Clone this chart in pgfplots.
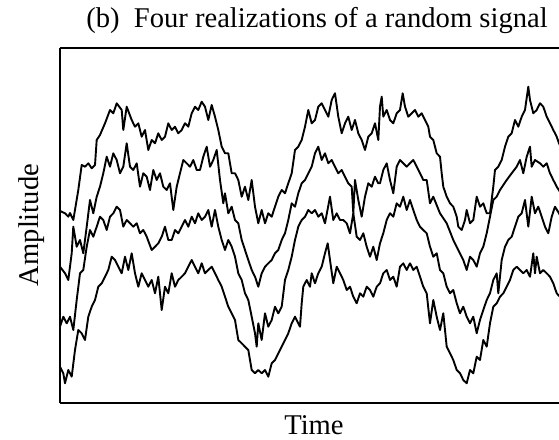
\documentclass[border=0pt]{standalone}
\usepackage{pgfplots}
\pgfplotsset{compat=1.18}
\usepackage{fontspec}
\setmainfont{Liberation Serif}

% data are in pixel units of the original figure (y measured downwards)
\begin{document}
\begin{tikzpicture}
\begin{axis}[
    scale only axis,
    width=255pt, height=177.5pt,
    xmin=60, xmax=570, ymin=48, ymax=403,
    y dir=reverse,
    axis x line=box, axis y line=left,
    axis line style={-, line width=1.1pt},
    ticks=none,
    sig/.style={black, mark=none, line width=0.95pt, line join=round},
]
\coordinate (pa) at (axis cs:0,0);
\coordinate (pb) at (axis cs:559,440);
\coordinate (tt) at (axis cs:317,28);
\coordinate (xl) at (axis cs:314,435);
\coordinate (yl) at (axis cs:39,225);

% realization 1 (top)
\addplot[sig] coordinates {
(60,211) (61.7,211.7) (65,213.3) (68.3,216.7) (70,213) (73.3,220) (78.3,190) (81.7,165)
(85,166.7) (88.3,163.3) (91.7,168.3) (95,165) (96.7,140) (100,135) (105,123.3)
(110,110) (113.3,113.3) (116.7,103.3) (121.7,110) (123.3,130) (126.7,106.7)
(131.7,120) (135,126.7) (138.3,123.3) (141.7,136.7) (145,130) (148.3,150)
(151.7,140) (155,143.3) (158.3,133.3) (161.7,140) (165,136.7) (168.3,123.3)
(171.7,130) (175,126.7) (178.3,133.3) (181.7,130) (185,123.3) (188.3,126.7)
(191.7,113.3) (195,106.7) (198.3,110) (201.7,101.7) (205,106.7) (208.3,120)
(211.7,105) (215,116.7) (218.3,130) (221.7,146.7) (225,153.3) (228.3,153.3)
(231.7,173.3) (235,173.3) (238.3,180) (241.7,196.7) (245,186.7) (248.3,200)
(251.7,180) (255,206.7) (258.3,223.3) (261.7,210) (265,223.3) (268.3,213.3)
(271.7,216.7) (275,206.7) (278.3,196.7) (281.7,190) (285,193.3) (288.3,183.3)
(291.7,173.3) (295,150) (298.3,146.7) (301.7,140) (305,126.7) (308.3,110)
(311.7,123.3) (315,120) (318.3,106.7) (321.7,103.3) (325,110) (328.3,116.7)
(331.7,100) (335,93.3) (338.3,116.7) (341.7,133.3) (345,123.3) (348.3,116.7)
(351.7,130) (355,120) (358.3,133.3) (361.7,140) (365,150) (368.3,136.7)
(371.7,133.3) (375,123.3) (378.3,140) (380,106.7) (381.7,96.7) (383.3,116.7)
(386.7,110) (390,120) (393.3,123.3) (396.7,113.3) (400,110) (402.7,93.3)
(405,106.7) (408.3,116.7) (411.7,113.3) (415,110) (418.3,116.7) (421.7,113.3)
(425,120) (428.3,126.7) (430,136.7) (433.3,140) (436.7,153.3) (440,156.7)
(441.7,173.3) (443.3,186.7) (446.7,196.7) (450,203.3) (453.3,206.7) (456.7,216.7)
(458.3,226.7) (461.7,230) (465,220) (466.7,210) (470,223.3) (473.3,220)
(476.7,196.7) (480,206.7) (483.3,203.3) (486.7,213.3) (490,213.3) (493.3,186.7)
(495,170) (498.3,166.7) (501.7,160) (505,146.7) (508.3,136.7) (511.7,133.3)
(515,120) (518.3,126.7) (521.7,116.7) (525,110) (528.3,86.7) (530,100)
(533.3,113.3) (536.7,110) (540,103.3) (543.3,106.7) (546.7,116.7) (550,123.3)
(553.3,130) (556.7,136.7) (559,143.3) (565,155) (570,165)
};

% realization 2
\addplot[sig] coordinates {
(60,266.7) (65,273.3) (68.3,280) (71.7,253.3) (73.3,226.7) (76.7,246.7) (80,240)
(83.3,253.3) (86.7,226.7) (90,200) (93.3,213.3) (96.7,196.7) (100,186.7)
(103.3,173.3) (106.7,156.7) (110,166.7) (113.3,153.3) (116.7,160) (120,173.3)
(123.3,166.7) (126.7,143.3) (130,166.7) (133.3,170) (136.7,163.3) (140,186.7)
(143.3,173.3) (146.7,176.7) (150,190) (153.3,170) (156.7,180) (160,173.3)
(163.3,186.7) (166.7,190) (170,183.3) (173.3,210) (176.7,186.7) (180,173.3)
(183.3,160) (186.7,163.3) (190,166.7) (193.3,160) (196.7,170) (200,170)
(203.3,156.7) (206.7,146.7) (210,166.7) (213.3,160) (216.7,150) (220,180)
(223.3,203.3) (225,193.3) (228.3,213.3) (231.7,206.7) (235,220) (238.3,223.3)
(241.7,240) (245,250) (248.3,260) (251.7,270) (255,276.7) (258.3,286.7)
(261.7,273.3) (265,266.7) (268.3,263.3) (271.7,260) (275,253.3) (278.3,250)
(281.7,240) (285,233.3) (288.3,220) (291.7,203.3) (295,206.7) (298.3,193.3)
(301.7,183.3) (305,180) (308.3,173.3) (311.7,166.7) (315,153.3) (318.3,146.7)
(321.7,160) (325,153.3) (328.3,163.3) (331.7,160) (335,166.7) (338.3,173.3)
(341.7,170) (345,176.7) (348.3,183.3) (351.7,186.7) (353.3,213.3) (355,180)
(358.3,200) (361.7,216.7) (365,196.7) (368.3,183.3) (371.7,186.7) (375,176.7)
(378.3,183.3) (380,183.3) (383.3,170) (386.7,163.3) (390,180) (393.3,193.3)
(396.7,166.7) (400,160) (403.3,163.3) (406.7,166.7) (410,163.3) (413.3,160)
(416.7,166.7) (420,173.3) (423.3,180) (426.7,180) (430,203.3) (433.3,196.7)
(440,213.3) (446.7,223.3) (453.3,240) (458.3,250) (463.3,260) (466.7,270)
(470,256.7) (473.3,260) (476.7,266.7) (480,253.3) (483.3,246.7) (486.7,233.3)
(490,216.7) (493.3,200) (496.7,196.7) (500,190) (506.7,180) (511.7,173.3)
(516.7,166.7) (520,160) (523.3,173.3) (526.7,156.7) (530,146.7) (531.7,166.7)
(535,160) (540,163.3) (543.3,166.7) (546.7,163.3) (550,173.3) (553.3,180)
(556.7,186.7) (562,195) (570,200)
};

% realization 3
\addplot[sig] coordinates {
(60,326.7) (63.3,316.7) (66.7,323.3) (70,316.7) (73.3,330) (76.7,300) (80,273.3)
(83.3,270) (86.7,246.7) (90,230) (93.3,236.7) (96.7,226.7) (100,216.7)
(103.3,220) (106.7,230) (110,216.7) (113.3,213.3) (116.7,206.7) (120,210)
(123.3,226.7) (126.7,220) (130,223.3) (133.3,226.7) (136.7,223.3) (140,233.3)
(143.3,230) (146.7,236.7) (151.7,250) (155,246.7) (158.3,243.3) (161.7,236.7)
(165,226.7) (168.3,240) (171.7,240) (175,230) (178.3,233.3) (181.7,226.7)
(185,220) (188.3,226.7) (191.7,216.7) (195,223.3) (198.3,213.3) (201.7,220)
(205,216.7) (208.3,210) (211.7,226.7) (215,210) (218.3,226.7) (221.7,240)
(225,250) (228.3,240) (231.7,246.7) (235,256.7) (238.3,273.3) (241.7,280)
(245,293.3) (248.3,300) (251.7,316.7) (255,333.3) (256.7,346.7) (258.3,323.3)
(261.7,340) (265,313.3) (268.3,326.7) (271.7,320) (275,306.7) (278.3,313.3)
(281.7,306.7) (285,280) (288.3,270) (291.7,256.7) (295,240) (298.3,226.7)
(301.7,220) (305,216.7) (308.3,210) (311.7,213.3) (315,210) (318.3,216.7)
(321.7,213.3) (325,223.3) (330,196.7) (333.3,220) (336.7,213.3) (340,220)
(343.3,220) (346.7,223.3) (350,233.3) (353.3,213.3) (356.7,236.7) (360,240)
(363.3,233.3) (366.7,246.7) (370,256.7) (373.3,246.7) (376.7,260) (380,243.3)
(383.3,233.3) (386.7,220) (390,213.3) (393.3,216.7) (396.7,203.3) (400,206.7)
(403.3,196.7) (406.7,210) (410,200) (413.3,210) (416.7,220) (420,226.7)
(423.3,230) (426.7,233.3) (430,246.7) (433.3,256.7) (436.7,253.3) (440,270)
(443.3,273.3) (446.7,286.7) (450,293.3) (453.3,290) (456.7,303.3) (460,313.3)
(463.3,306.7) (466.7,316.7) (470,323.3) (473.3,316.7) (476.7,333.3) (480,320)
(483.3,310) (486.7,300) (490,293.3) (493.3,280) (496.7,273.3) (498.3,293.3)
(501.7,260) (505,246.7) (508.3,240) (511.7,236.7) (515,226.7) (518.3,216.7)
(521.7,213.3) (525,200) (528.3,226.7) (531.7,196.7) (535,213.3) (538.3,206.7)
(541.7,216.7) (545,226.7) (548.3,233.3) (551.7,216.7) (555,206.7) (559,213.3)
(565,225) (570,230)
};

% realization 4 (bottom)
\addplot[sig] coordinates {
(60,366.7) (63.3,373.3) (65,383.3) (68.3,370) (71.7,376.7) (75,350) (78.3,330)
(81.7,333.3) (85,340) (88.3,316.7) (91.7,306.7) (95,300) (98.3,286.7)
(101.7,283.3) (105,276.7) (108.3,270) (111.7,256.7) (115,260) (118.3,266.7)
(121.7,273.3) (125,256.7) (128.3,270) (131.7,253.3) (135,273.3) (138.3,286.7)
(141.7,273.3) (145,280) (148.3,286.7) (151.7,280) (155,293.3) (158.3,276.7)
(161.7,310) (165,286.7) (168.3,293.3) (171.7,273.3) (175,286.7) (178.3,280)
(181.7,276.7) (185,273.3) (188.3,266.7) (191.7,260) (195,266.7) (198.3,273.3)
(201.7,263.3) (205,273.3) (208.3,270) (211.7,266.7) (215,273.3) (218.3,280)
(221.7,286.7) (225,296.7) (228.3,306.7) (231.7,313.3) (235,320) (238.3,340)
(241.7,343.3) (245,346.7) (248.3,350) (251.7,370) (255,373.3) (258.3,370)
(261.7,373.3) (265,370) (268.3,376.7) (271.7,363.3) (275,360) (278.3,353.3)
(281.7,346.7) (285,340) (288.3,333.3) (291.7,323.3) (295,316.7) (298.3,323.3)
(300,326.7) (301.7,303.3) (303.3,286.7) (306.7,280) (310,286.7) (311.7,273.3)
(315,283.3) (318.3,273.3) (321.7,266.7) (325,253.3) (327.7,243.3) (330,260)
(333.3,283.3) (336.7,266.7) (340,273.3) (343.3,280) (346.7,290) (350,286.7)
(353.3,296.7) (356.7,303.3) (360,293.3) (363.3,296.7) (366.7,286.7) (370,290)
(373.3,296.7) (376.7,286.7) (380,283.3) (383.3,273.3) (386.7,270) (390,280)
(393.3,276.7) (396.7,286.7) (400,266.7) (403.3,263.3) (406.7,270) (410,263.3)
(413.3,270) (416.7,266.7) (420,276.7) (423.3,286.7) (426.7,293.3) (430,323.3)
(433.3,300) (436.7,316.7) (440,330) (443.3,313.3) (446.7,346.7) (450,353.3)
(453.3,360) (456.7,370) (460,373.3) (463.3,380) (466.7,383.3) (470,370)
(473.3,373.3) (476.7,356.7) (480,360) (483.3,340) (486.7,346.7) (490,323.3)
(493.3,306.7) (496.7,303.3) (500,296.7) (503.3,293.3) (506.7,286.7) (510,280)
(513.3,270) (516.7,266.7) (520,270) (523.3,273.3) (526.7,270) (530,276.7)
(533.3,253.3) (535,273.3) (536.7,256.7) (540,273.3) (543.3,270) (546.7,273.3)
(550,276.7) (553.3,283.3) (556.7,293.3) (563,300) (570,305)
};
\end{axis}
\node[anchor=base, font=\fontsize{14.3}{16}\selectfont] at (tt) {(b)\enspace Four realizations of a random signal};
\node[anchor=base, font=\fontsize{14.3}{16}\selectfont] at (xl) {Time};
\node[anchor=base, rotate=90, font=\fontsize{14.3}{16}\selectfont] at (yl) {Amplitude};
\pgfresetboundingbox
\path[use as bounding box] (pa) rectangle (pb);
\end{tikzpicture}
\end{document}
